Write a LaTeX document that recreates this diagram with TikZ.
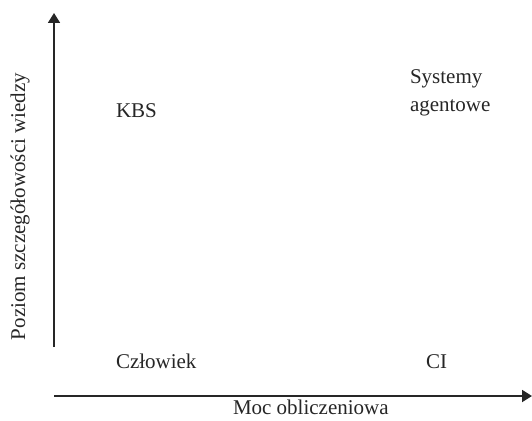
\documentclass[tikz,border=0pt]{standalone}
\usepackage{fontspec}
\setmainfont{Liberation Serif}
\usetikzlibrary{arrows.meta}
\begin{document}
\begin{tikzpicture}[x=1pt,y=-1pt,
  lbl/.style={inner sep=0pt,outer sep=0pt,anchor=base west,font=\fontsize{21}{28}\selectfont,text=black!85},
  axis/.style={line width=1.8pt,draw=black!85,-{Triangle[length=10pt,width=12pt]}}]
\useasboundingbox (0,0) rectangle (532,420);
\coordinate (yo) at (54,347);
\coordinate (yt) at (54,13);
\coordinate (xo) at (54,396);
\coordinate (xt) at (532,396);
\draw[axis] (yo) -- (yt);
\draw[axis] (xo) -- (xt);
\node[lbl] (kbs) at (116,117) {KBS};
\node[lbl,align=left] (sys) at (410,111) {Systemy\\agentowe};
\node[lbl] (czl) at (116,368) {Człowiek};
\node[lbl] (ci) at (426,368) {CI};
\node[lbl] (xl) at (233,414) {Moc obliczeniowa};
\node[lbl,rotate=90] (yl) at (25,340) {Poziom szczegółowości wiedzy};
\end{tikzpicture}
\end{document}
